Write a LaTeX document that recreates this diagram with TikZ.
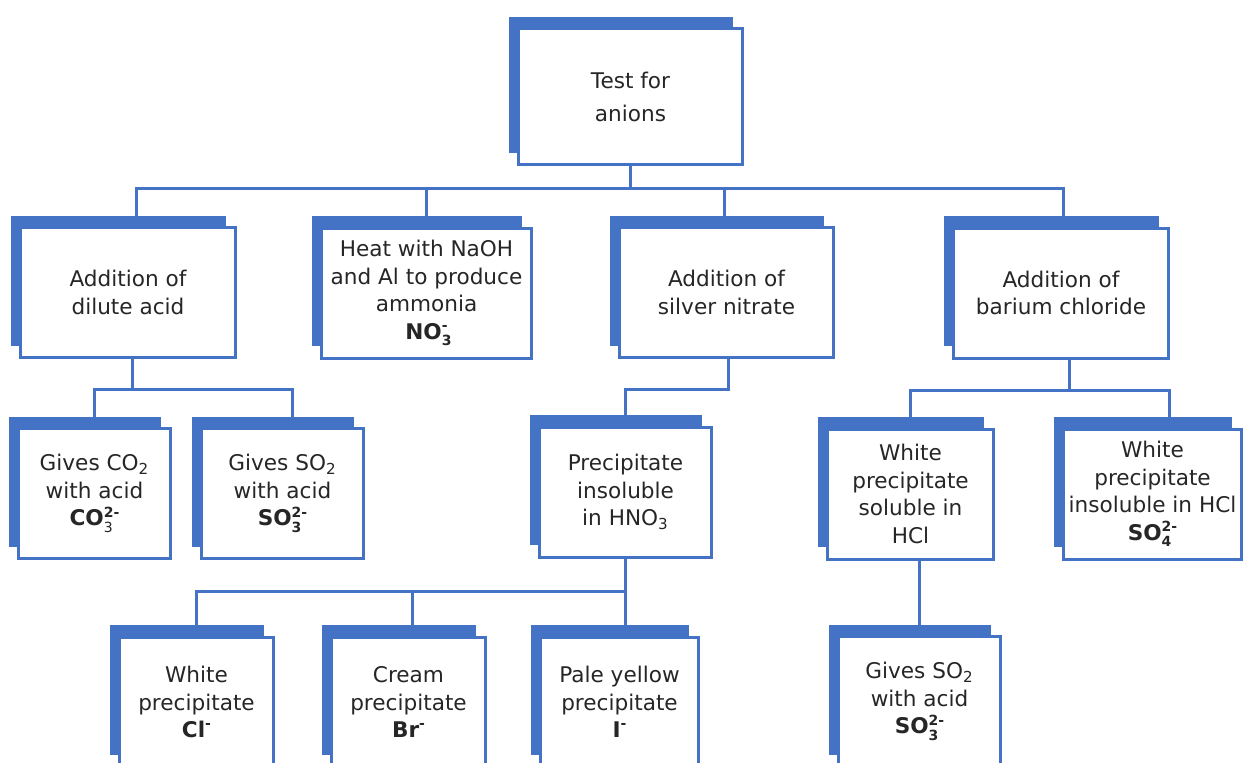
\documentclass[tikz,border=0pt]{standalone}
\usepackage{fontspec}
\setmainfont{DejaVu Sans}
\usetikzlibrary{shadows}
\definecolor{anionblue}{HTML}{4472C4}
\definecolor{inkgray}{HTML}{262626}
\newcommand{\ionchg}[2]{\rlap{\raisebox{-0.55ex}{\fontsize{7}{8}\selectfont #1}}\raisebox{0.75ex}{\fontsize{7}{8}\selectfont #2}}
\newcommand{\ionneg}{\raisebox{0.75ex}{\fontsize{7}{8}\selectfont\bfseries -}}

\begin{document}
\begin{tikzpicture}[x=0.5pt,y=-0.5pt,
	testbox/.style={draw=anionblue, line width=1.5pt, fill=white, inner sep=0pt, outer sep=0pt,
		align=center, minimum height=65pt, text=inkgray, font=\fontsize{10.8}{13.75}\selectfont,
		drop shadow={shadow xshift=-5pt, shadow yshift=6pt, fill=anionblue, opacity=1}},
	joint/.style={draw=anionblue, line width=1.5pt}]
		\useasboundingbox (0,0) rectangle (1245,762);
		\clip (0,0) rectangle (1245,762);
		\fill[white] (0,0) rectangle (1245,762);
		% top
		\node[testbox, minimum width=112pt, minimum height=68pt, font=\fontsize{10.8}{16.5}\selectfont] (root) at (630.5,96.5) {Test for\\anions};
		% first row
		\node[testbox, minimum width=107.5pt] (dilute) at (128,292.5) {Addition of\\dilute acid};
		\node[testbox, minimum width=105pt] (heat) at (426.5,293) {Heat with NaOH\\and Al to produce\\ammonia\\\textbf{NO}\ionchg{\textbf{3}}{\textbf{-}}};
		\node[testbox, minimum width=107pt] (silver) at (726.5,292.5) {Addition of\\silver nitrate};
		\node[testbox, minimum width=107.5pt] (barium) at (1061,293) {Addition of\\barium chloride};
		% second row
		\node[testbox, minimum width=76pt] (carbonate) at (94.5,493.5) {Gives CO\textsubscript{2}\\with acid\\\textbf{CO}\ionchg{3}{\textbf{2-}}};
		\node[testbox, minimum width=81pt] (sulfiteA) at (282.5,493.5) {Gives SO\textsubscript{2}\\with acid\\\textbf{SO}\ionchg{\textbf{3}}{\textbf{2-}}};
		\node[testbox, minimum width=86pt] (precip) at (625.5,492) {Precipitate\\insoluble\\in HNO\textsubscript{3}};
		\node[testbox, minimum width=83pt] (soluble) at (910.5,494) {White\\precipitate\\soluble in\\HCl};
		\node[testbox, minimum width=89pt] (insoluble) at (1152.5,494) {White\\precipitate\\insoluble in HCl\\\textbf{SO}\ionchg{\textbf{4}}{\textbf{2-}}};
		% third row
		\node[testbox, minimum width=77pt] (chloride) at (196.5,702) {White\\precipitate\\\textbf{Cl}\ionneg};
		\node[testbox, minimum width=77pt] (bromide) at (408.5,702) {Cream\\precipitate\\\textbf{Br}\ionneg};
		\node[testbox, minimum width=79pt] (iodide) at (619.5,702) {Pale yellow\\precipitate\\\textbf{I}\ionneg};
		\node[testbox, minimum width=81pt] (sulfiteB) at (919.5,701.5) {Gives SO\textsubscript{2}\\with acid\\\textbf{SO}\ionchg{\textbf{3}}{\textbf{2-}}};
		% connectors
		\draw[joint] (root.south) -- ++(0,24) -| ([xshift=4pt]dilute.north);
		\draw[joint] (root.south) -- ++(0,24) -| (heat.north);
		\draw[joint] (root.south) -- ++(0,24) -| ([xshift=-1pt]silver.north);
		\draw[joint] (root.south) -- ++(0,24) -| ([xshift=1pt]barium.north);
		\draw[joint] ([xshift=2pt]dilute.south) -- ++(0,32) -| (carbonate.north);
		\draw[joint] ([xshift=2pt]dilute.south) -- ++(0,32) -| ([xshift=5pt]sulfiteA.north);
		\draw[joint] ([xshift=1pt]silver.south) -- ++(0,32) -| (precip.north);
		\draw[joint] ([xshift=4pt]barium.south) -- ++(0,32) -| (soluble.north);
		\draw[joint] ([xshift=4pt]barium.south) -- ++(0,32) -| ([xshift=8.5pt]insoluble.north);
		\draw[joint] (precip.south) -- ++(0,34) -| (chloride.north);
		\draw[joint] (precip.south) -- ++(0,34) -| ([xshift=2pt]bromide.north);
		\draw[joint] (precip.south) -- ++(0,34) -| ([xshift=3pt]iodide.north);
		\draw[joint] (sulfiteB.north) -- (sulfiteB.north |- soluble.south);
	\end{tikzpicture}
\end{document}
